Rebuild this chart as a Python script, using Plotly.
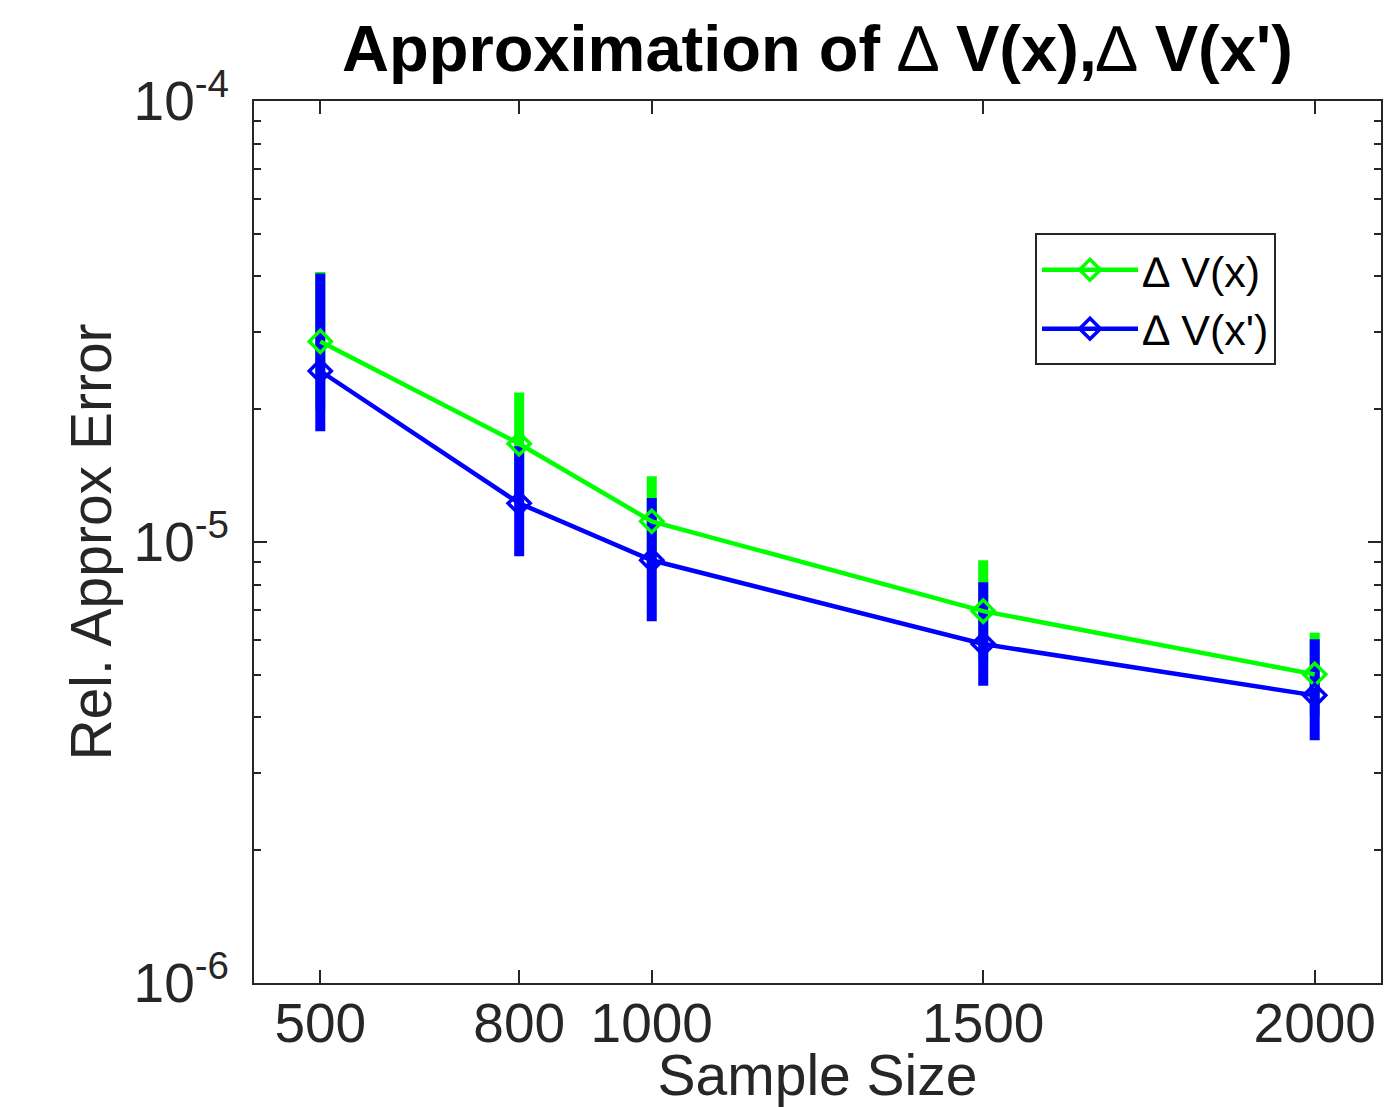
import plotly.graph_objects as go

sample_size = [500, 800, 1000, 1500, 2000]

# Delta V(x) (green)
vx_mean = [2.85e-5, 1.67e-5, 1.114e-5, 6.97e-6, 5.01e-6]
vx_upper = [4.095e-5, 2.182e-5, 1.409e-5, 9.09e-6, 6.23e-6]
vx_lower = [1.99e-5, 1.28e-5, 8.81e-6, 5.35e-6, 4.03e-6]

# Delta V(x') (blue)
vxp_mean = [2.442e-5, 1.224e-5, 9.09e-6, 5.87e-6, 4.49e-6]
vxp_upper = [4.061e-5, 1.648e-5, 1.258e-5, 8.10e-6, 6.02e-6]
vxp_lower = [1.782e-5, 9.28e-6, 6.61e-6, 4.72e-6, 3.55e-6]

x_ticks = [500, 800, 1000, 1500, 2000]
y_tickvals = [1e-6, 1e-5, 1e-4]
y_ticktext = ["10<sup>-6</sup>", "10<sup>-5</sup>", "10<sup>-4</sup>"]

GREEN = "#00FF00"
BLUE = "#0000FF"
AXC = "#262626"
FONT = "Liberation Sans, Arial, Helvetica, sans-serif"

# page body has an 8px margin; figure is sized to fit the window
W, H = 1383, 1099
ML, MR, MT = 246, 10, 92.7
PLOT_BOTTOM = 974.7
MB = H - PLOT_BOTTOM


def errbar(mean, upper, lower, color):
    return go.Scatter(
        x=sample_size, y=mean, mode="markers",
        marker=dict(color="rgba(0,0,0,0)", size=1),
        error_y=dict(type="data", symmetric=False,
                     array=[u - m for u, m in zip(upper, mean)],
                     arrayminus=[m - l for m, l in zip(mean, lower)],
                     color=color, thickness=10, width=0),
        showlegend=False, hoverinfo="skip",
    )


fig = go.Figure()
fig.add_trace(errbar(vx_mean, vx_upper, vx_lower, GREEN))
fig.add_trace(errbar(vxp_mean, vxp_upper, vxp_lower, BLUE))
fig.add_trace(go.Scatter(
    x=sample_size, y=vx_mean, mode="lines+markers", name="∆ V(x)",
    line=dict(color=GREEN, width=4.5),
    marker=dict(symbol="diamond-open", size=17, color=GREEN, line=dict(width=3.5, color=GREEN)),
))
fig.add_trace(go.Scatter(
    x=sample_size, y=vxp_mean, mode="lines+markers", name="∆ V(x')",
    line=dict(color=BLUE, width=4.5),
    marker=dict(symbol="diamond-open", size=17, color=BLUE, line=dict(width=3.5, color=BLUE)),
))

plot_h = PLOT_BOTTOM - MT

fig.update_layout(
    width=W, height=H,
    margin=dict(l=ML, r=MR, t=MT, b=MB, autoexpand=False),
    paper_bgcolor="white", plot_bgcolor="white",
    font=dict(family=FONT, size=54, color=AXC),
    title=dict(
        text="<b>Approximation of </b>∆<b> V(x),</b>∆<b> V(x')</b>",
        font=dict(family=FONT, size=65, color="black"),
        x=0.5, xref="paper", xanchor="center",
        y=1 - 40 / H, yref="container", yanchor="middle",
    ),
    xaxis=dict(
        range=[400, 2100], tickvals=x_ticks, ticktext=[str(v) for v in x_ticks],
        showgrid=False, zeroline=False, automargin=False,
        showline=True, linecolor=AXC, linewidth=2, mirror="ticks",
        ticks="inside", ticklen=13, tickwidth=2, tickcolor=AXC,
        ticklabelstandoff=-9,
        tickfont=dict(size=55, color=AXC),
        title=dict(text="Sample Size", font=dict(size=57, color=AXC), standoff=7),
    ),
    yaxis=dict(
        type="log", range=[-6, -4], tickvals=y_tickvals, ticktext=y_ticktext,
        showgrid=False, zeroline=False, automargin=False,
        showline=True, linecolor=AXC, linewidth=2, mirror="ticks",
        ticks="inside", ticklen=13, tickwidth=2, tickcolor=AXC,
        minor=dict(ticks="inside", ticklen=7, tickwidth=2, tickcolor=AXC, dtick="D1", showgrid=False),
        ticklabelstandoff=12,
        tickfont=dict(size=55, color=AXC),
        title=dict(text="Rel. Approx Error", font=dict(size=57, color=AXC), standoff=4),
    ),
    legend=dict(
        x=(1027 - ML) / (W - ML - MR), y=(PLOT_BOTTOM - 225) / plot_h,
        xanchor="left", yanchor="top",
        bgcolor="white", bordercolor=AXC, borderwidth=2,
        font=dict(size=43, color="black"),
        itemwidth=96,
        tracegroupgap=0,
    ),
)

fig.write_html("out.html")
